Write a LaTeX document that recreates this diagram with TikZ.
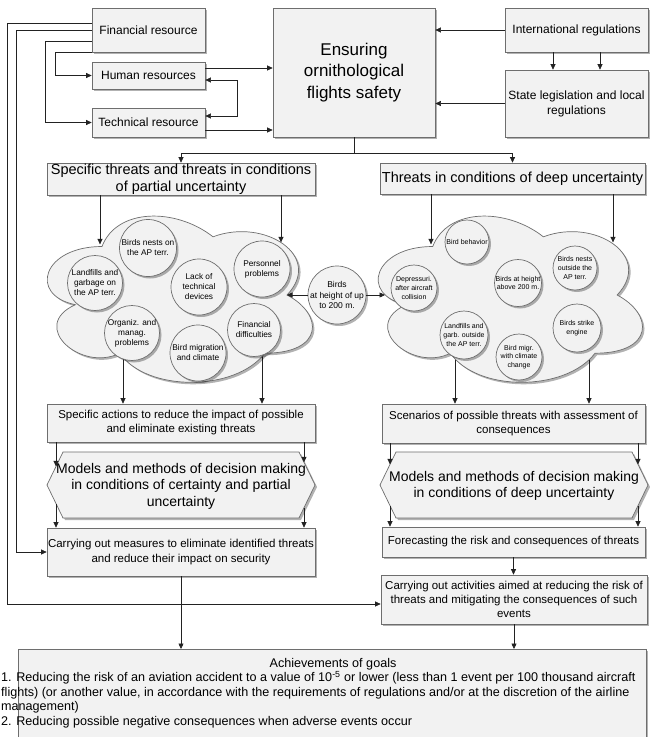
\documentclass[tikz,border=0pt]{standalone}
\usepackage{fontspec}
\setmainfont{Liberation Sans}
\usetikzlibrary{arrows.meta,shadows}
\definecolor{boxfill}{HTML}{F2F2F2}
\definecolor{boxline}{HTML}{6E6E6E}
\definecolor{arrcol}{HTML}{222222}
\newcommand{\fsz}[2]{\fontsize{#1}{#2}\selectfont}
\newcommand{\mycloud}[4]{({#1+0.25*#3},{#2+0.25*#4}) .. controls ({#1+0.05*#3},{#2+0.25*#4}) and ({#1},{#2+0.5*#4}) .. ({#1+0.16*#3},{#2+0.55*#4}) .. controls ({#1},{#2+0.66*#4}) and ({#1+0.18*#3},{#2+0.9*#4}) .. ({#1+0.31*#3},{#2+0.8*#4}) .. controls ({#1+0.4*#3},{#2+#4}) and ({#1+0.7*#3},{#2+#4}) .. ({#1+0.8*#3},{#2+0.8*#4}) .. controls ({#1+#3},{#2+0.8*#4}) and ({#1+#3},{#2+0.6*#4}) .. ({#1+0.875*#3},{#2+0.5*#4}) .. controls ({#1+#3},{#2+0.3*#4}) and ({#1+0.8*#3},{#2+0.1*#4}) .. ({#1+0.625*#3},{#2+0.2*#4}) .. controls ({#1+0.5*#3},{#2+0.05*#4}) and ({#1+0.3*#3},{#2+0.05*#4}) .. ({#1+0.25*#3},{#2+0.25*#4}) -- cycle}
\begin{document}
\begin{tikzpicture}[x=1pt,y=-1pt,
  shd/.style={drop shadow={shadow xshift=2pt,shadow yshift=-2pt,opacity=0.3,fill=black}},
  box/.style={draw=boxline,fill=boxfill,line width=0.7pt,shd,inner sep=0pt,align=center},
  circ/.style={circle,draw=boxline,fill=boxfill,line width=0.7pt,shd,inner sep=-12pt,align=center},
  ltxt/.style={font=\fsz{8.3}{10}},
  rtxt/.style={font=\fsz{7}{8.6}},
  arr/.style={draw=arrcol,line width=0.6pt,-{Triangle[width=5pt,length=5.5pt]}},
  darr/.style={draw=arrcol,line width=0.6pt,{Triangle[width=5pt,length=5.5pt]}-{Triangle[width=5pt,length=5.5pt]}},
  ln/.style={draw=arrcol,line width=0.6pt}]
\clip (0,0) rectangle (650,737);
\fill[white] (0,0) rectangle (650,737);

% top boxes
\node[box,minimum width=113pt,minimum height=44pt,font=\fsz{12}{14}] (fin) at (148.5,30) {Financial resource};
\node[box,minimum width=113pt,minimum height=27pt,font=\fsz{12}{14}] (hum) at (148.5,75.5) {Human resources};
\node[box,minimum width=113pt,minimum height=29pt,font=\fsz{12}{14}] (tech) at (148.5,122.5) {Technical resource};
\node[box,minimum width=162pt,minimum height=129pt,font=\fsz{17}{21.5}] (ens) at (354,72.5) {Ensuring\\ornithological\\flights safety};
\node[box,minimum width=143pt,minimum height=44pt,font=\fsz{12}{14}] (intl) at (576.5,30) {International regulations};
\node[box,minimum width=143pt,minimum height=67pt,font=\fsz{12}{15}] (state) at (576.5,103.5) {State legislation and local\\regulations};

% threat boxes
\node[box,minimum width=268pt,minimum height=32pt,font=\fsz{14.5}{16.5}] (spec) at (181,179) {Specific threats and threats in conditions\\of partial uncertainty};
\node[box,minimum width=265pt,minimum height=31pt,font=\fsz{14.5}{16.5}] (deep) at (512.5,178.5) {Threats in conditions of deep uncertainty};

% arrows leaving the clouds (drawn behind them)
\coordinate (cb1) at (123,350);
\coordinate (cb2) at (262,350);
\coordinate (cb3) at (455,350);
\coordinate (cb4) at (589,350);
\node[box,minimum width=268pt,minimum height=38pt,font=\fsz{11.5}{14}] (actL) at (181,423) {Specific actions to reduce the impact of possible\\and eliminate existing threats};
\node[box,minimum width=263pt,minimum height=39pt,font=\fsz{11.5}{14}] (scen) at (513.5,423.5) {Scenarios of possible threats with assessment of\\consequences};
\draw[arr] (cb1) -- (cb1 |- actL.north);
\draw[arr] (cb2) -- (cb2 |- actL.north);
\draw[arr] (cb3) -- (cb3 |- scen.north);
\draw[arr] (cb4) -- (cb4 |- scen.north);

% clouds
\path[draw=boxline,fill=boxfill,line width=0.7pt,shd] \mycloud{28}{198}{296}{194};
\path[draw=boxline,fill=boxfill,line width=0.7pt,shd] \mycloud{359}{198}{295}{194};
\coordinate (nL) at (287,295);
\coordinate (eR) at (385,295);

% left cloud circles
\node[circ,minimum size=57pt,ltxt] (l1) at (148,248) {Birds nests on\\the AP terr.};
\node[circ,minimum size=55pt,ltxt] (l2) at (95,283) {Landfills and\\garbage on\\the AP terr.};
\node[circ,minimum size=56pt,ltxt] (l3) at (199,287) {Lack of\\technical\\devices};
\node[circ,minimum size=56pt,ltxt] (l4) at (262,269) {Personnel\\problems};
\node[circ,minimum size=55pt,ltxt] (l5) at (132,333) {Organiz. and\\manag.\\problems};
\node[circ,minimum size=56pt,ltxt] (l6) at (198,353) {Bird migration\\and climate};
\node[circ,minimum size=53pt,ltxt] (l7) at (254,330) {Financial\\difficulties};

% right cloud circles
\node[circ,minimum size=44pt,rtxt] (r1) at (467,242) {Bird behavior};
\node[circ,minimum size=46pt,rtxt] (r2) at (414,288) {Depressuri.\\after aircraft\\collision};
\node[circ,minimum size=47pt,rtxt] (r3) at (518,283) {Birds at height\\above 200 m.};
\node[circ,minimum size=44pt,rtxt] (r4) at (575,268) {Birds nests\\outside the\\AP terr.};
\node[circ,minimum size=48pt,rtxt] (r5) at (464,335) {Landfills and\\garb. outside\\the AP terr.};
\node[circ,minimum size=46pt,rtxt] (r6) at (519,357) {Bird migr.\\with climate\\change};
\node[circ,minimum size=48pt,rtxt] (r7) at (577,328) {Birds strike\\engine};

% middle circle
\node[circ,minimum size=58pt,font=\fsz{8.5}{10.5}] (mid) at (337,295) {Birds\\at height of up\\to 200 m.};
\draw[arr] (mid.west) -- (nL);
\draw[arr] (mid.east) -- (eR);

% hexagons
\path[box] (47,485) -- (63,452) -- (299,452) -- (315,485) -- (299,518) -- (63,518) -- cycle;
\node[font=\fsz{14}{16.5},align=center] (hexL) at (181,486) {Models and methods of decision making\\in conditions of certainty and partial\\uncertainty};
\path[box] (380,485) -- (396,452) -- (632,452) -- (648,485) -- (632,518) -- (396,518) -- cycle;
\node[font=\fsz{14}{16.5},align=center] (hexR) at (514,486) {Models and methods of decision making\\in conditions of deep uncertainty};
\coordinate (hl1) at (56,466.4);
\coordinate (hl2) at (56,503.6);
\coordinate (hl3) at (304,462.3);
\coordinate (hl4) at (304,507.7);
\coordinate (hr1) at (390,464.4);
\coordinate (hr2) at (390,505.6);
\coordinate (hr3) at (638,464.4);
\coordinate (hr4) at (638,505.6);

% lower boxes
\node[box,minimum width=268pt,minimum height=48pt,font=\fsz{11.5}{14.5}] (meas) at (181,552) {Carrying out measures to eliminate identified threats\\and reduce their impact on security};
\node[box,minimum width=263pt,minimum height=30pt,font=\fsz{11.5}{14}] (fore) at (513.5,542) {Forecasting the risk and consequences of threats};
\node[box,minimum width=266pt,minimum height=49pt,font=\fsz{11.5}{14}] (act) at (514,599.5) {Carrying out activities aimed at reducing the risk of\\threats and mitigating the consequences of such\\events};
\node[box,minimum width=628pt,minimum height=100pt,anchor=north west] (ach) at (18,649) {};
\node[font=\fsz{12.6}{14.5}] (achT) at (333,664) {Achievements of goals};
\node[font=\fsz{12.6}{14.5},align=left,anchor=north west,inner sep=0pt] (achB) at (1,671) {1. Reducing the risk of an aviation accident to a value of 10\textsuperscript{-5} or lower (less than 1 event per 100 thousand aircraft\\flights) (or another value, in accordance with the requirements of regulations and/or at the discretion of the airline\\management)\\2. Reducing possible negative consequences when adverse events occur};

% top connectors
\draw[arr] ([yshift=7pt]fin.west) -- ++(-84,0) |- ([yshift=-4.5pt]act.west);
\draw[arr] (fin.west) -- ++(-75,0) |- (meas.west);
\draw[arr] ([yshift=-11pt]fin.west) -- ++(-46,0) |- (tech.west);
\draw[arr] (fin.south west) -- ++(-36,0) |- (hum.west);
\coordinate (h1) at ([yshift=7.5pt]hum.east);
\coordinate (t1) at ([yshift=-7.5pt]tech.east);
\draw[arr] (h1) -- (h1 -| ens.west);
\draw[arr] (t1) -- (t1 -| ens.west);
\draw[darr] ([yshift=-4.5pt]hum.east) -- ++(32,0) |- ([yshift=6.5pt]tech.east);
\draw[arr] (intl.west) -- (intl.west -| ens.east);
\draw[arr] (state.west) -- (state.west -| ens.east);
\coordinate (i1) at ([xshift=-23.5pt]intl.south);
\coordinate (i2) at ([xshift=23.5pt]intl.south);
\draw[arr] (i1) -- (i1 |- state.north);
\draw[arr] (i2) -- (i2 |- state.north);
\draw[ln] (ens.south) -- ++(0,16) coordinate (e1);
\draw[arr] (e1) -| (spec.north);
\draw[arr] (e1) -| (deep.north);

% into clouds
\draw[arr] ([xshift=-81pt]spec.south) -- ++(0,49);
\draw[arr] ([xshift=100pt]spec.south) -- ++(0,47);
\draw[arr] ([xshift=-81.5pt]deep.south) -- ++(0,50);
\draw[arr] ([xshift=100.5pt]deep.south) -- ++(0,48);

% around hexagons
\draw[arr] (hl1 |- actL.south) -- (hl1);
\draw[arr] (hl2) -- (hl2 |- meas.north);
\draw[arr] (hl3 |- actL.south) -- (hl3);
\draw[arr] (hl4) -- (hl4 |- meas.north);
\draw[arr] (hr1 |- scen.south) -- (hr1);
\draw[arr] (hr2) -- (hr2 |- fore.north);
\draw[arr] (hr3 |- scen.south) -- (hr3);
\draw[arr] (hr4) -- (hr4 |- fore.north);

% bottom
\draw[arr] (fore.south) -- (fore.south |- act.north);
\draw[arr] (meas.south) -- (meas.south |- ach.north);
\draw[arr] (act.south) -- (act.south |- ach.north);
\end{tikzpicture}
\end{document}
